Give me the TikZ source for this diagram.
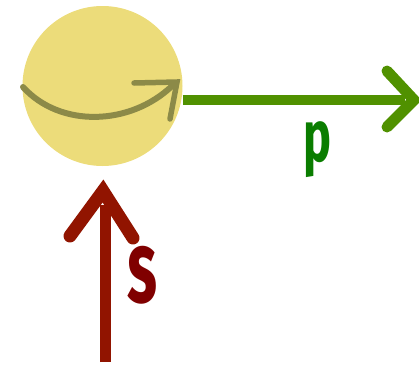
\documentclass[tikz,border=0pt]{standalone}
\usepackage{fontspec}
\usepackage{graphicx}
\setmainfont{Fira Sans}
\definecolor{ballyellow}{RGB}{236,220,122}
\definecolor{olivebrush}{RGB}{140,138,72}
\definecolor{pgreen}{RGB}{80,145,0}
\definecolor{plabel}{RGB}{10,125,0}
\definecolor{sred}{RGB}{145,20,0}
\definecolor{slabel}{RGB}{128,0,0}
\begin{document}
\begin{tikzpicture}[x=1pt,y=-1pt,
  brush/.style={line cap=round,line join=miter},
  lbl/.style={inner sep=0pt,font=\bfseries}]
\useasboundingbox (0,0) rectangle (419,364);
\node[circle,fill=ballyellow,minimum size=160pt,inner sep=0pt] (ball) at (102.5,86) {};
% spin arrow
\coordinate (c0) at (23,87);
\coordinate (c1) at (172,86);
\coordinate (h0) at (134,83);
\coordinate (h1) at (177,82);
\coordinate (h2) at (170,119);
\draw[brush,olivebrush,line width=6pt] (c0) .. controls (60,128) and (130,126) .. (c1);
\draw[brush,olivebrush,line width=5.5pt] (h0) -- (h1) -- (h2);
% momentum arrow
\coordinate (p1) at (405,100);
\coordinate (pa) at (387,71);
\coordinate (pt) at (414,100);
\coordinate (pb) at (387,127);
\draw[pgreen,line width=10pt,line cap=butt] (ball.east |- 0,100) -- (p1);
\draw[brush,pgreen,line width=11pt] (pa) -- (pt) -- (pb);
\node[lbl,text=plabel] (plab) at (317,150) {\resizebox*{28pt}{56pt}{p}};
% spin vector arrow
\coordinate (s0) at (105,362);
\coordinate (s1) at (105,205);
\coordinate (sa) at (70,236);
\coordinate (st) at (103,191);
\coordinate (sb) at (133,238);
\draw[sred,line width=11pt,line cap=butt] (s0) -- (s1);
\draw[brush,sred,line width=13pt] (sa) -- (st) -- (sb);
\node[lbl,text=slabel] (slab) at (143,275) {\resizebox*{30pt}{58pt}{s}};
\end{tikzpicture}
\end{document}
